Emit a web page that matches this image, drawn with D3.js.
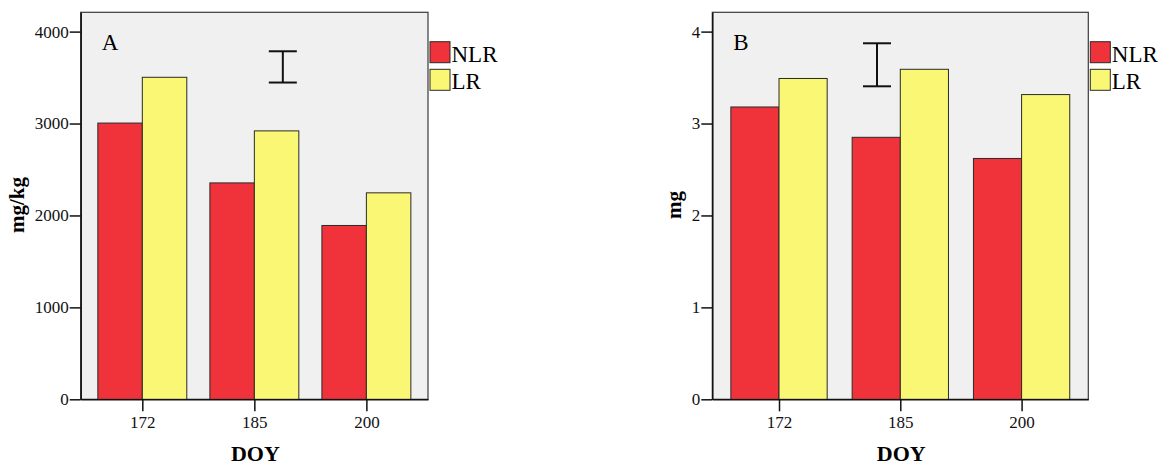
<!DOCTYPE html>
<html>
<head>
<meta charset="utf-8">
<script src="https://cdn.jsdelivr.net/npm/d3@7"></script>
<style>
  body { margin: 0; background: #fff; }
  svg { display: block; font-family: "Liberation Serif", "Times New Roman", serif; }
  svg text { font-family: "Liberation Serif", "Times New Roman", serif; }
</style>
</head>
<body>
<div id="graph"></div>
<script>
const doy = ["172", "185", "200"];
const seriesNames = ["NLR", "LR"];

const nlrA = [3005, 2354, 1891];
const lrA = [3503, 2920, 2246];
const ticksA = [0, 1000, 2000, 3000, 4000];
const yMaxA = 4210;
const errA = [3446, 3786];

const nlrB = [3.18, 2.85, 2.62];
const lrB = [3.49, 3.59, 3.315];
const ticksB = [0, 1, 2, 3, 4];
const yMaxB = 4.21;
const errB = [3.405, 3.873];

const colors = ["#f0323a", "#f9f773"];

const width = 1176;
const height = 466;

const svg = d3.create("svg")
              .attr("width", width)
              .attr("height", height);

function drawPanel(opts) {
  const { left, right, top, bottom, nlr, lr, ticks, yMax, err, errPos, letter, yTitle, yTitleX } = opts;
  const g = svg.append("g");

  const xScale = d3.scalePoint()
                   .domain(doy)
                   .range([left, right])
                   .padding(0.55);
  const barW = xScale.step() * 0.397;
  const sub = d3.scaleBand()
                .domain(seriesNames)
                .range([-barW, barW]);

  const yScale = d3.scaleLinear()
                   .domain([0, yMax])
                   .range([bottom, top]);

  // plot background / frame
  g.append("rect")
   .attr("x", left)
   .attr("y", top)
   .attr("width", right - left)
   .attr("height", bottom - top)
   .attr("fill", "#f0f0f0")
   .attr("stroke", "#3a3a3a")
   .attr("stroke-width", 1.2);

  // bars
  const rows = doy.map((d, i) => ({ doy: d, values: [nlr[i], lr[i]] }));
  g.selectAll(".grp")
   .data(rows)
   .enter()
   .append("g")
   .attr("transform", d => `translate(${xScale(d.doy)},0)`)
   .selectAll("rect")
   .data(d => d.values.map((v, j) => ({ key: seriesNames[j], v })))
   .enter()
   .append("rect")
   .attr("x", d => sub(d.key))
   .attr("y", d => yScale(d.v))
   .attr("width", sub.bandwidth())
   .attr("height", d => bottom - yScale(d.v))
   .attr("fill", (d, j) => colors[j])
   .attr("stroke", "#2a2a2a")
   .attr("stroke-width", 1);

  // error bar marker
  const ex = left + (right - left) * errPos;
  const cap = 14;
  const eb = g.append("g").attr("stroke", "#111").attr("stroke-width", 2);
  eb.append("line").attr("x1", ex).attr("x2", ex).attr("y1", yScale(err[0])).attr("y2", yScale(err[1]));
  err.forEach(v => {
    eb.append("line").attr("x1", ex - cap).attr("x2", ex + cap).attr("y1", yScale(v)).attr("y2", yScale(v));
  });

  // panel letter
  g.append("text")
   .attr("x", left + 21)
   .attr("y", top + 38)
   .attr("font-size", 23)
   .text(letter);

  // y axis
  const yAxis = d3.axisLeft(yScale)
                  .tickValues(ticks)
                  .tickFormat(d3.format("d"))
                  .tickSize(11)
                  .tickSizeOuter(0)
                  .tickPadding(1);
  const ya = g.append("g")
              .attr("transform", `translate(${left},0)`)
              .call(yAxis)
              .attr("font-family", null)
              .attr("font-size", null);
  ya.select(".domain").attr("stroke", "#111").attr("stroke-width", 1.5);
  ya.selectAll(".tick line").attr("stroke", "#111").attr("stroke-width", 1.5);
  ya.selectAll("text")
    .style("font-size", "17px")
    .attr("fill", "#111");

  // x axis
  const xAxis = d3.axisBottom(xScale)
                  .tickSize(12)
                  .tickSizeOuter(0)
                  .tickPadding(5);
  const xa = g.append("g")
              .attr("transform", `translate(0,${bottom})`)
              .call(xAxis)
              .attr("font-family", null)
              .attr("font-size", null);
  xa.select(".domain").attr("stroke", "#111").attr("stroke-width", 1.5);
  xa.selectAll(".tick line").attr("stroke", "#111").attr("stroke-width", 1.5);
  xa.selectAll("text")
    .style("font-size", "17px")
    .attr("fill", "#111");

  // axis titles
  g.append("text")
   .attr("x", (left + right) / 2 + 1)
   .attr("y", 461)
   .attr("text-anchor", "middle")
   .attr("font-size", 22)
   .attr("font-weight", "bold")
   .text("DOY");

  g.append("text")
   .attr("transform", `translate(${yTitleX},${205}) rotate(-90)`)
   .attr("text-anchor", "middle")
   .attr("font-size", 21)
   .attr("font-weight", "bold")
   .text(yTitle);

  // legend
  const lg = g.append("g").attr("transform", `translate(${right + 2},41.7)`);
  seriesNames.forEach((name, i) => {
    lg.append("rect")
      .attr("x", 0)
      .attr("y", i * 27.6)
      .attr("width", 20)
      .attr("height", 21)
      .attr("fill", colors[i])
      .attr("stroke", "#2a2a2a")
      .attr("stroke-width", 1);
    lg.append("text")
      .attr("x", 21.5)
      .attr("y", i * 27.6 + 20)
      .attr("font-size", 23)
      .text(name);
  });
}

drawPanel({
  left: 80.7, right: 428, top: 12.3, bottom: 399.3,
  nlr: nlrA, lr: lrA, ticks: ticksA, yMax: yMaxA,
  err: errA, errPos: 0.582, letter: "A", yTitle: "mg/kg", yTitleX: 24
});

drawPanel({
  left: 712.3, right: 1088.3, top: 12.3, bottom: 399.3,
  nlr: nlrB, lr: lrB, ticks: ticksB, yMax: yMaxB,
  err: errB, errPos: 0.438, letter: "B", yTitle: "mg", yTitleX: 681
});

d3.select("#graph").append(() => svg.node());
</script>
</body>
</html>
